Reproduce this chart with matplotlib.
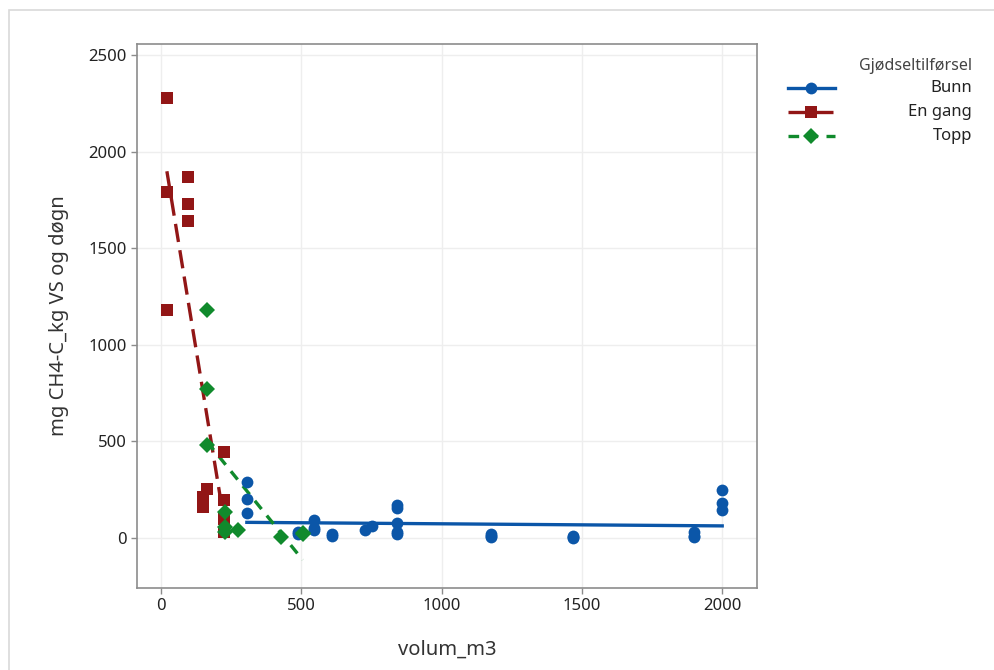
import numpy as np
import matplotlib
matplotlib.use("Agg")
import matplotlib.pyplot as plt
from matplotlib.lines import Line2D
from matplotlib.patches import Rectangle

plt.rcParams['font.family'] = ['Noto Sans', 'DejaVu Sans']

# --- data ---
bunn_x = [306, 306, 306, 488, 488, 545, 545, 545, 608, 608, 727, 751, 841, 841, 841, 841, 841,
          1175, 1175, 1175, 1470, 1470, 1470, 1900, 1900, 1900, 2000, 2000, 2000]
bunn_y = [290, 200, 130, 31, 20, 93, 52, 40, 20, 12, 41, 62, 171, 155, 78, 31, 20,
          20, 10, 5, 10, 0, 3, 31, 5, 10, 250, 180, 145]

engang_x = [21, 21, 21, 96, 96, 96, 150, 150, 164, 225, 225, 225, 225]
engang_y = [2280, 1790, 1180, 1870, 1730, 1640, 212, 160, 256, 445, 195, 100, 30]

topp_x = [164, 164, 164, 228, 228, 228, 274, 428, 505, 505]
topp_y = [1180, 770, 480, 135, 57, 30, 40, 5, 20, 26]

series = ["Bunn", "En gang", "Topp"]
legend_title = "Gjødseltilførsel"
x_ticks = [0, 500, 1000, 1500, 2000]
y_ticks = [0, 500, 1000, 1500, 2000, 2500]
x_label = "volum_m3"
y_label = "mg CH4-C_kg VS og døgn"

colors = {"Bunn": "#0B56A8", "En gang": "#921616", "Topp": "#108A2C"}
markers = {"Bunn": "o", "En gang": "s", "Topp": "D"}
msizes = {"Bunn": 8.5, "En gang": 8.5, "Topp": 8.5}
lstyles = {"Bunn": "-", "En gang": (0, (5.5, 2.5)), "Topp": (0, (3.2, 2.5))}

data = {"Bunn": (bunn_x, bunn_y), "En gang": (engang_x, engang_y), "Topp": (topp_x, topp_y)}

fig = plt.figure(figsize=(9.95, 6.7), dpi=100)
# outer panel border
fig.patches.append(Rectangle((9 / 995, -0.1), 1.2, 1 - 10 / 670 + 0.1, transform=fig.transFigure,
                             fill=False, edgecolor="#D9D9D9", linewidth=1.2))

ax = fig.add_axes([137 / 995, 1 - 588 / 670, (757 - 137) / 995, (588 - 44) / 670])
ax.set_xlim(-85.5, 2124)
ax.set_ylim(-259, 2557)
ax.set_xticks(x_ticks)
ax.set_yticks(y_ticks)
ax.grid(True, color="#EEEEEE", linewidth=1.0)
ax.set_axisbelow(True)
for sp in ax.spines.values():
    sp.set_color("#8C8C8C")
    sp.set_linewidth(1.2)
ax.tick_params(axis="both", colors="#8C8C8C", labelcolor="#222222", labelsize=12, length=4, width=1)

for s in series:
    x, y = data[s]
    x = np.array(x, float)
    y = np.array(y, float)
    b, a = np.polyfit(x, y, 1)
    xs = np.array([x.min(), x.max()])
    ax.plot(xs, a + b * xs, color=colors[s], lw=2.4, linestyle=lstyles[s], zorder=2)
    ax.plot(x, y, linestyle="none", marker=markers[s], ms=msizes[s], color=colors[s],
            markeredgewidth=0, zorder=3)

ax.set_xlabel(x_label, fontsize=14.5, color="#333333", labelpad=18)
ax.set_ylabel(y_label, fontsize=14.5, color="#333333", labelpad=14)

# legend drawn manually with right-aligned labels
fig.text(972 / 995, 1 - 66 / 670, legend_title, ha="right", va="center", fontsize=11.5, color="#444444")
for i, s in enumerate(series):
    yy = 1 - (88 + 24 * i) / 670
    fig.lines.append(Line2D([788 / 995, 835 / 995], [yy, yy], transform=fig.transFigure,
                            color=colors[s], lw=2.4, linestyle=lstyles[s]))
    fig.lines.append(Line2D([811.5 / 995], [yy], transform=fig.transFigure, marker=markers[s],
                            ms=msizes[s], color=colors[s], markeredgewidth=0, linestyle="none"))
    fig.text(972 / 995, yy, s, ha="right", va="center", fontsize=12, color="#222222")

fig.savefig("out.png", dpi=100)
